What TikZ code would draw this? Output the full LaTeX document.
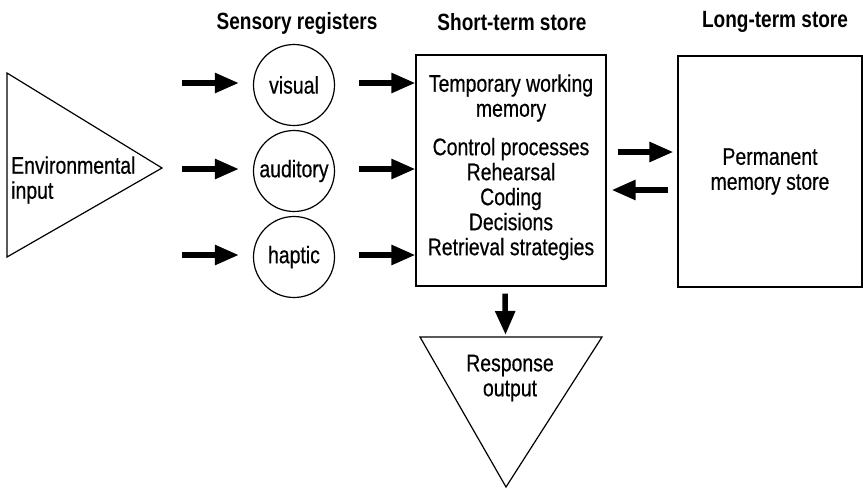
\documentclass[tikz,border=0pt]{standalone}
\usepackage{fontspec}
\setmainfont{Liberation Sans}[FakeStretch=0.81, UprightFeatures={FakeBold=0.5}]
\usetikzlibrary{arrows.meta,calc}
\begin{document}
\begin{tikzpicture}[x=1pt,y=-1pt,
  txt/.style={font=\fontsize{24}{25}\selectfont, align=center, inner sep=0pt},
  hdr/.style={font=\fontsize{23.5}{25}\selectfont\bfseries, inner sep=0pt},
  reg/.style={circle, draw, line width=1.2pt, minimum size=81pt, inner sep=0pt, font=\fontsize{24}{25}\selectfont},
  store/.style={draw, line width=1.2pt, rectangle, inner sep=0pt},
  outline/.style={draw, line width=1.2pt, line join=miter},
  bigarrow/.style={line width=5.5pt, -{Triangle[length=24pt,width=19pt]}},
]
\useasboundingbox (0,0) rectangle (863,488);

% headers
\node[hdr] (h1) at (297,23) {Sensory registers};
\node[hdr] (h2) at (512,22) {Short-term store};
\node[hdr] (h3) at (775,22) {Long-term store};

% environmental input
\coordinate (e1) at (7,73);
\coordinate (e2) at (7,257);
\coordinate (e3) at (162,168);
\draw[outline] (e1) -- (e3) -- (e2) -- cycle;
\node[txt, align=left, anchor=west] (env) at (11,180) {Environmental\\input};

% sensory registers
\node[reg] (vis) at (294,85) {visual};
\node[reg] (aud) at (294,171) {auditory};
\node[reg] (hap) at (294,257) {haptic};

% short-term store
\node[store, minimum width=190pt, minimum height=231pt] (stm) at (511,170.5) {};
\node[txt] (tw) at (511,98) {Temporary working\\memory};
\node[txt] (cp) at (511,199) {Control processes\\Rehearsal\\Coding\\Decisions\\Retrieval strategies};

% long-term store
\node[store, txt, minimum width=184pt, minimum height=231pt] (ltm) at (770,171.5) {Permanent\\memory store};

% response output
\coordinate (r1) at (420,337);
\coordinate (r2) at (602,337);
\coordinate (r3) at (506,487);
\draw[outline] (r1) -- (r2) -- (r3) -- cycle;
\node[txt] (resp) at (510,378) {Response\\output};

% arrows into registers
\foreach \n in {vis,aud,hap}{
  \coordinate (src-\n) at ($(\n.west)+(-71,-2)$);
  \draw[bigarrow] (src-\n) -- ($(\n.west)+(-14,-2)$);
  \draw[bigarrow] ($(\n.east)+(24,-2)$) -- ($(\n.east -| stm.west)+(0,-2)$);
}

% between stores
\draw[bigarrow] ($(stm.east)+(11,-18.5)$) -- ($(ltm.west)+(-4,-19.5)$);
\draw[bigarrow] ($(ltm.west)+(-9,18.5)$) -- ($(stm.east)+(5,19.5)$);

% down to response
\draw[bigarrow] ($(stm.south)+(-6,7)$) -- ($(r1)!0.47!(r2)+(0,-2)$);
\end{tikzpicture}
\end{document}
